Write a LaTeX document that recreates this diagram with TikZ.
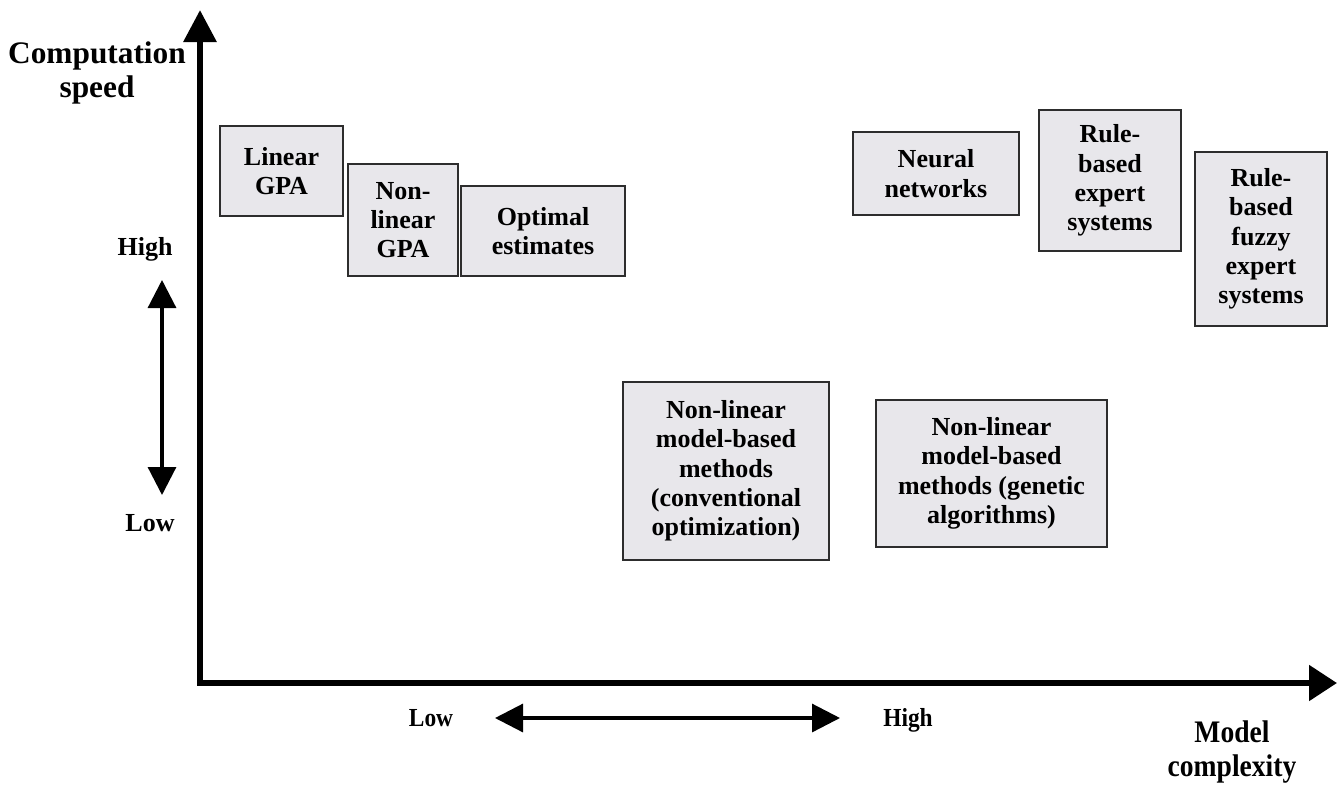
\documentclass[tikz,border=0pt]{standalone}
\usepackage{fontspec}
\setmainfont{Liberation Serif}
\usetikzlibrary{arrows.meta}
\definecolor{boxfill}{RGB}{232,231,235}
\definecolor{boxline}{RGB}{45,45,45}
\newcommand\boxfont{\fontsize{19.5pt}{22pt}\selectfont\bfseries}
\newcommand\titlefont{\fontsize{23.5pt}{26pt}\selectfont\bfseries}
\newcommand\xtitlefont{\fontsize{23.5pt}{25pt}\selectfont\bfseries}
\tikzset{
  boxnode/.style={draw=boxline, line width=1.9pt, fill=boxfill, inner sep=0pt, align=center, font=\boxfont},
  lbl/.style={inner sep=0pt, align=center, font=\boxfont},
  ttl/.style={inner sep=0pt, align=center, font=\titlefont},
  axisline/.style={line width=4.6pt, {Triangle[width=24pt,length=24pt]}-{Triangle[width=26pt,length=21pt]}},
  dblarrow/.style={line width=2.4pt, {Triangle[width=21pt,length=21pt]}-{Triangle[width=21pt,length=21pt]}}
}
\begin{document}
\begin{tikzpicture}[x=0.75pt,y=-0.75pt]
\useasboundingbox (0,0) rectangle (1337,786);
% axes
\coordinate (Ytip) at (200,10);
\coordinate (O) at (200,683);
\coordinate (Xtip) at (1337,683);
\draw[axisline, line join=miter] (Ytip) -- (O) -- (Xtip);
% axis titles
\node[ttl] (ytitle) at (97,73) {Computation\\speed};
\node[ttl, font=\xtitlefont, xscale=0.88] (xtitle) at (1232,752) {Model\\complexity};
% vertical scale
\node[lbl] (yhigh) at (145,249) {High};
\node[lbl] (ylow) at (150,523) {Low};
\coordinate (vA) at (162,280);
\coordinate (vB) at (162,495);
\draw[dblarrow] (vA) -- (vB);
% horizontal scale
\node[lbl, xscale=0.9] (xlow) at (431,718) {Low};
\node[lbl, xscale=0.9] (xhigh) at (908,720) {High};
\coordinate (hA) at (495,718);
\coordinate (hB) at (840,718);
\draw[dblarrow] (hA) -- (hB);
% boxes
\node[boxnode, minimum width=92.25pt, minimum height=67.5pt] (lin) at (281.5,171) {Linear\\GPA};
\node[boxnode, minimum width=82.5pt, minimum height=84pt] (nlin) at (403,220) {Non-\\linear\\GPA};
\node[boxnode, minimum width=123pt, minimum height=67.5pt] (opt) at (543,231) {Optimal\\estimates};
\node[boxnode, minimum width=124.5pt, minimum height=62.25pt] (nn) at (936,173.5) {Neural\\networks};
\node[boxnode, minimum width=106.5pt, minimum height=105.75pt] (rbes) at (1110,180.5) {Rule-\\based\\expert\\systems};
\node[boxnode, minimum width=99pt, minimum height=130.5pt] (rbfes) at (1261,239) {Rule-\\based\\fuzzy\\expert\\systems};
\node[boxnode, minimum width=154.5pt, minimum height=133.5pt] (conv) at (726,471) {Non-linear\\model-based\\methods\\(conventional\\optimization)};
\node[boxnode, minimum width=173.25pt, minimum height=110.25pt] (gen) at (991.5,473.5) {Non-linear\\model-based\\methods (genetic\\algorithms)};
\end{tikzpicture}
\end{document}
